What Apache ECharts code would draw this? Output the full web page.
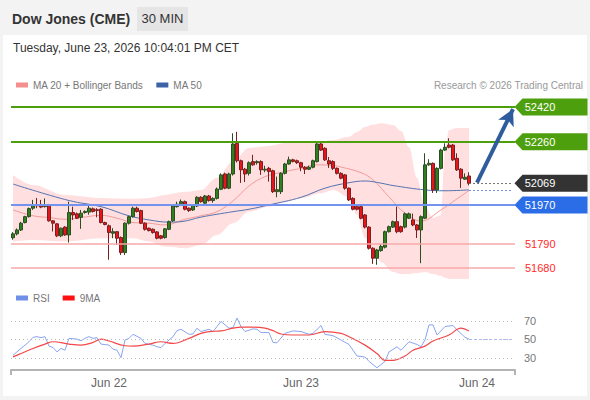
<!DOCTYPE html>
<html><head><meta charset="utf-8">
<script src="https://cdn.jsdelivr.net/npm/echarts@6/dist/echarts.min.js"></script>
<style>
html,body{margin:0;padding:0;background:#f3f3f3;width:590px;height:400px;overflow:hidden;font-family:'Liberation Sans',Arial,sans-serif;}
#card{position:absolute;left:3px;top:35px;width:584px;height:361px;background:#fff;}
#chart{position:absolute;left:0;top:0;width:590px;height:400px;}
#title{position:absolute;left:12px;top:11px;font-weight:bold;font-size:14px;color:#333;}
#tf{position:absolute;left:137px;top:7px;width:51px;height:24px;line-height:24px;background:#e5e5e5;text-align:center;font-size:13px;color:#333;}
#date{position:absolute;left:13px;top:41px;font-size:12px;color:#333;}
#src{position:absolute;right:7px;top:80px;font-size:10px;color:#999;}
</style></head><body>
<div id="card"></div>
<div id="title">Dow Jones (CME)</div>
<div id="tf">30 MIN</div>
<div id="date">Tuesday, June 23, 2026 10:04:01 PM CET</div>
<div id="src">Research © 2026 Trading Central</div>
<div id="chart"></div>
<script>
// ---------- data ----------
const slotCount = 126;
const categories = Array.from({length: slotCount}, (_, i) => String(i));
const tickIndex = [24, 72, 116];
const tickLabels = ['Jun 22', 'Jun 23', 'Jun 24'];

// [open, close, low, high]
const candles = [
[51819,51837,51810,51845],[51837,51855,51830,51862],[51855,51886,51850,51892],[51889,51916,51885,51920],
[51916,51953,51912,51958],[51955,51970,51947,51993],[51968,51966,51955,52002],[51970,51960,51955,51993],
[51962,51968,51958,52000],[51967,51897,51893,51972],[51897,51886,51848,51900],[51883,51828,51822,51886],
[51828,51863,51822,51866],[51868,51832,51828,51872],[51832,51935,51797,51985],[51935,51924,51901,51962],
[51929,51909,51905,51935],[51913,51932,51860,51947],[51935,51940,51930,51945],[51937,51955,51925,51970],
[51952,51940,51935,51958],[51948,51944,51913,51955],[51950,51889,51885,51955],[51889,51880,51876,51893],
[51874,51843,51718,51880],[51840,51847,51817,51863],[51847,51817,51786,51850],[51820,51751,51740,51825],
[51751,51886,51740,51890],[51886,51916,51880,51920],[51916,51955,51912,51962],[51955,51940,51935,51962],
[51944,51886,51882,51948],[51886,51858,51852,51890],[51863,51852,51848,51866],[51858,51843,51838,51862],
[51846,51817,51812,51850],[51828,51817,51812,51832],[51820,51860,51815,51864],[51858,51893,51854,51898],
[51897,51965,51892,51970],[51962,51973,51958,51985],[51975,51985,51970,51995],[51985,51950,51945,51990],
[51955,51944,51938,51958],[51947,51967,51942,51972],[51965,52005,51960,52010],[52005,51985,51980,52010],
[51978,52011,51972,52016],[52011,51990,51985,52016],[51990,52000,51980,52005],[52000,52043,51995,52050],
[52042,52108,52038,52115],[52112,52047,52042,52118],[52047,52112,52042,52118],[52112,52250,52105,52299],
[52253,52173,52165,52306],[52173,52131,52071,52178],[52134,52112,52075,52140],[52115,52164,52105,52170],
[52169,52154,52150,52200],[52164,52169,52155,52175],[52169,52131,52108,52175],[52130,52134,52120,52150],
[52138,52123,52077,52145],[52127,52031,52025,52132],[52031,52040,52005,52100],[52031,52115,52020,52120],
[52115,52158,52110,52163],[52158,52177,52155,52192],[52177,52170,52165,52182],[52173,52164,52158,52178],
[52164,52143,52125,52168],[52143,52134,52112,52148],[52134,52143,52130,52150],[52143,52173,52138,52178],
[52169,52250,52165,52260],[52250,52222,52218,52262],[52230,52177,52172,52235],[52173,52158,52140,52190],
[52169,52138,52130,52175],[52138,52115,52110,52142],[52115,52093,52088,52120],[52108,52047,52040,52112],
[52047,51993,51988,52050],[52000,51950,51945,52005],[51962,51950,51945,51968],[51962,51909,51904,51968],
[51924,51868,51862,51928],[51868,51771,51765,51872],[51771,51725,51699,51775],[51725,51763,51695,51768],
[51760,51779,51755,51790],[51776,51847,51770,51852],[51847,51870,51843,51875],[51868,51893,51864,51898],
[51893,51847,51840,51962],[51870,51847,51842,51875],[51868,51929,51862,51935],[51909,51929,51905,51935],
[51901,51878,51872,51930],[51878,51855,51818,51882],[51855,51916,51702,51922],[51909,52154,51905,52207],
[52154,52161,52150,52180],[52161,52039,52025,52165],[52039,52138,52025,52143],[52138,52222,52133,52228],
[52222,52235,52218,52253],[52245,52235,52230,52276],[52245,52177,52172,52250],[52184,52131,52126,52207],
[52134,52093,52048,52139],[52088,52097,52085,52115],[52103,52069,52060,52120]
];

// Bollinger bands, [slot index, value]
const bbUpper = [[0,52108],[5,52062],[13,52016],[22,52002],[30,51998],[34,52002],[38,52016],[43,52030],[47,52039],
[51,52095],[55,52170],[59,52232],[64,52241],[68,52255],[72,52255],[77,52261],[80,52268],[84,52283],[86,52305],
[88,52328],[90,52338],[92,52345],[95,52337],[97,52310],[99,52236],[101,52094],[103,51961],[105,51910],[107,51924],
[108,52222],[109,52314],[111,52323],[114,52323]];
const bbLower = [[0,51802],[5,51809],[13,51802],[22,51817],[30,51817],[34,51802],[38,51779],[43,51771],[47,51786],
[51,51832],[55,51886],[59,51939],[64,51962],[68,51985],[72,52001],[77,52024],[80,52039],[84,52007],[86,51924],
[88,51819],[90,51754],[92,51708],[95,51662],[97,51653],[99,51653],[101,51657],[103,51662],[105,51653],[107,51644],
[108,51635],[109,51630],[111,51630],[114,51630]];
const ma20 = [[0,51947],[5,51920],[9,51912],[13,51904],[17,51912],[22,51922],[26,51909],[30,51889],[34,51886],
[38,51878],[43,51904],[47,51920],[51,51939],[55,51988],[59,52057],[63,52100],[68,52123],[72,52138],[76,52154],
[80,52151],[82,52144],[87,52118],[90,52085],[94,52007],[98,51932],[102,51896],[107,51947],[111,51998],[114,52036]];
const ma50 = [[0,52066],[14,51990],[22,51962],[29,51920],[34,51901],[39,51891],[42,51893],[47,51914],[55,51939],
[59,51950],[64,51970],[72,52005],[78,52047],[84,52072],[88,52080],[92,52070],[95,52059],[103,52039],[108,52035],[114,52039]];

// levels
const resistLevels = [52420, 52260];
const pivotLevel = 51970;
const supportLevels = [51790, 51680];
const lastPrice = 52069;
const ma50Last = 52039;
const arrowTarget = 52410;

// RSI panel
const rsi = [[0,32.9],[2,40.2],[4,47.4],[5,52.2],[6,52.9],[7,51.8],[8,52.9],[9,42.7],[10,41.2],[11,36.5],[12,40.2],
[13,38.3],[14,51.1],[16,50.3],[17,48.5],[18,51.1],[19,52.9],[20,51.1],[21,51.8],[22,44.9],[24,43.8],[25,39.4],
[26,38.3],[27,30.3],[28,49.3],[29,51.1],[30,55.4],[32,51.1],[33,45.6],[35,43.8],[36,42.0],[37,41.2],[38,45.6],
[40,52.9],[41,59.4],[42,60.9],[44,55.4],[45,55.8],[46,62.0],[47,58.4],[49,60.9],[50,58.4],[51,63.8],[52,69.3],
[54,62.0],[55,62.7],[56,72.9],[57,63.8],[58,58.4],[60,61.3],[61,60.9],[62,57.3],[64,57.3],[65,46.7],[66,46.3],
[68,56.5],[70,59.1],[72,58.4],[74,55.4],[75,56.5],[77,64.9],[78,55.4],[80,54.0],[82,49.3],[84,44.5],[85,38.3],
[86,32.1],[88,31.0],[89,26.3],[91,19.4],[93,26.3],[94,36.5],[96,42.0],[97,38.3],[99,47.4],[101,44.5],[102,42.0],
[103,49.3],[104,65.6],[105,65.6],[106,54.7],[108,63.8],[110,64.9],[111,60.2],[113,52.2],[114,50.3]];
const rsiMa9 = [[0,31.1],[2,34.7],[5,40.2],[8,44.9],[10,47.4],[14,44.9],[17,43.8],[20,46.7],[22,50.3],[24,48.2],
[28,43.1],[30,42.7],[34,44.9],[37,47.4],[40,45.6],[44,51.1],[47,56.5],[49,58.4],[52,59.1],[55,62.0],[57,63.1],
[60,63.1],[63,62.0],[65,59.4],[67,55.8],[70,54.7],[74,54.7],[78,58.4],[82,56.5],[84,52.9],[88,43.8],[91,34.7],
[93,27.4],[95,27.4],[98,32.1],[100,38.3],[103,42.7],[105,48.2],[109,54.7],[112,62.0],[114,59.1]];
const rsiLevels = [70, 50, 30];
const rsiLast = 50.3;

// ---------- chart ----------
const GREEN = '#4e9f0d', BLUE_LINE = '#7393ee', BLUE_TAG = '#2b6de6', DARK_TAG = '#333333';
const lastIdx = String(candles.length - 1);
const endIdx = String(slotCount - 1);
const tagPath = 'path://M0,9L8,0L73,0L73,18L8,18Z';
function tag(v, color) {
  return {coord: [endIdx, v], value: String(v), itemStyle: {color: color}};
}

const chart = echarts.init(document.getElementById('chart'), null, {renderer: 'svg'});
chart.setOption({
  animation: false,
  backgroundColor: 'transparent',
  textStyle: {fontFamily: 'Liberation Sans, Arial, sans-serif'},
  legend: [
    {data: ['MA 20 + Bollinger Bands', 'MA 50'], left: 11, top: 75, icon: 'rect', itemWidth: 12, itemHeight: 5,
     itemGap: 13, selectedMode: false, textStyle: {fontSize: 10, color: '#777', padding: [0, 0, 0, 0]}},
    {data: ['RSI', '9MA'], left: 11, top: 288, icon: 'rect', itemWidth: 12, itemHeight: 5,
     itemGap: 13, selectedMode: false, textStyle: {fontSize: 10, color: '#777', padding: [0, 0, 0, 0]}}
  ],
  grid: [
    {left: 11, right: 75, top: 95, height: 185},
    {left: 11, right: 75, top: 305, height: 65}
  ],
  xAxis: [
    {type: 'category', gridIndex: 0, data: categories, show: false, boundaryGap: true},
    {type: 'category', gridIndex: 1, data: categories, boundaryGap: true,
     axisLine: {lineStyle: {color: '#b3b3b3', width: 2}},
     axisTick: {show: true, inside: false, length: 5, lineStyle: {color: '#b3b3b3', width: 2},
                interval: (i) => i === 0},
     axisLabel: {interval: (i) => tickIndex.indexOf(i) >= 0, margin: 7, fontSize: 12, color: '#666',
                 formatter: (v, i) => { const k = tickIndex.indexOf(i); return k >= 0 ? tickLabels[k] : ''; }}}
  ],
  yAxis: [
    {type: 'value', gridIndex: 0, min: 51625, max: 52475, show: false},
    {type: 'value', gridIndex: 1, min: 17, max: 87, show: false}
  ],
  series: [
    {type: 'line', name: 'bbUpper', data: bbUpper, symbol: 'none', smooth: 0.35, smoothMonotone: 'x',
     lineStyle: {width: 0}, areaStyle: {color: '#ffdfdf', opacity: 1, origin: 'start'}, silent: true, z: 1},
    {type: 'line', name: 'bbLower', data: bbLower, symbol: 'none', smooth: 0.35, smoothMonotone: 'x',
     lineStyle: {width: 0}, areaStyle: {color: '#ffffff', opacity: 1, origin: 'start'}, silent: true, z: 1},
    {type: 'line', name: 'MA 20 + Bollinger Bands', data: ma20, symbol: 'none', smooth: 0.4,
     color: '#f58e8e', lineStyle: {width: 1, color: '#f39a9a'}, z: 2},
    {type: 'line', name: 'MA 50', data: ma50, symbol: 'none', smooth: 0.4,
     color: '#3d62a6', lineStyle: {width: 1, color: '#5573b0'}, z: 2},
    {type: 'candlestick', name: 'price', data: candles, barWidth: 2.6, z: 3,
     itemStyle: {color: '#2e7f1e', color0: '#e5161c', borderColor: '#2c4d22', borderColor0: '#7a1f1f', borderWidth: 1},
     markLine: {
       silent: true, symbol: ['none', 'none'], label: {show: false},
       data: [
         {yAxis: resistLevels[0], lineStyle: {color: GREEN, width: 2, type: 'solid'}},
         {yAxis: resistLevels[1], lineStyle: {color: GREEN, width: 2, type: 'solid'}},
         {yAxis: pivotLevel, lineStyle: {color: BLUE_LINE, width: 2, type: 'solid'}},
         {yAxis: supportLevels[0], lineStyle: {color: '#f7a8a8', width: 1.5, type: 'solid'},
          label: {show: true, position: 'end', distance: 10, formatter: String(supportLevels[0]), color: '#ff2a2a', fontSize: 11}},
         {yAxis: supportLevels[1], lineStyle: {color: '#f7a8a8', width: 1.5, type: 'solid'},
          label: {show: true, position: 'end', distance: 10, formatter: String(supportLevels[1]), color: '#ff2a2a', fontSize: 11}},
         [{coord: [lastIdx, lastPrice], lineStyle: {color: '#777', width: 1, type: [2, 2]}}, {coord: [endIdx, lastPrice]}],
         [{coord: [lastIdx, ma50Last], lineStyle: {color: '#7790d0', width: 1, type: [2, 2]}}, {coord: [endIdx, ma50Last]}],
         [{coord: [String(candles.length + 1), lastPrice + 3], symbol: 'none', lineStyle: {color: '#2f5c9c', width: 4, type: 'solid'}},
          {coord: [endIdx, arrowTarget], symbol: 'arrow', symbolSize: [13, 16]}]
       ]
     },
     markPoint: {
       silent: true, symbol: tagPath, symbolSize: [73, 17], symbolOffset: [38, 0],
       label: {show: true, position: 'inside', color: '#fff', fontSize: 11, offset: [-11, 0], formatter: '{c}'},
       data: [tag(resistLevels[0], GREEN), tag(resistLevels[1], GREEN), tag(lastPrice, DARK_TAG), tag(pivotLevel, BLUE_TAG)]
     }
    },
    {type: 'line', name: 'RSI', xAxisIndex: 1, yAxisIndex: 1, data: rsi, symbol: 'none',
     color: '#6f8fe8', lineStyle: {width: 1, color: '#8aa4f0'}, z: 3,
     markLine: {
       silent: true, symbol: ['none', 'none'],
       label: {show: true, position: 'end', distance: 9, color: '#777', fontSize: 11},
       data: rsiLevels.map(v => ({yAxis: v, lineStyle: {color: '#bbb', width: 1, type: [1, 3]}})).concat([
         [{coord: [lastIdx, rsiLast], lineStyle: {color: '#a9bbf2', width: 1.2, type: [3, 2]}, label: {show: false}},
          {coord: [endIdx, rsiLast]}]
       ])
     }},
    {type: 'line', name: '9MA', xAxisIndex: 1, yAxisIndex: 1, data: rsiMa9, symbol: 'none', smooth: 0.4,
     color: '#ff1010', lineStyle: {width: 1.2, color: '#f24848'}, z: 3}
  ]
});
</script>
</body></html>
